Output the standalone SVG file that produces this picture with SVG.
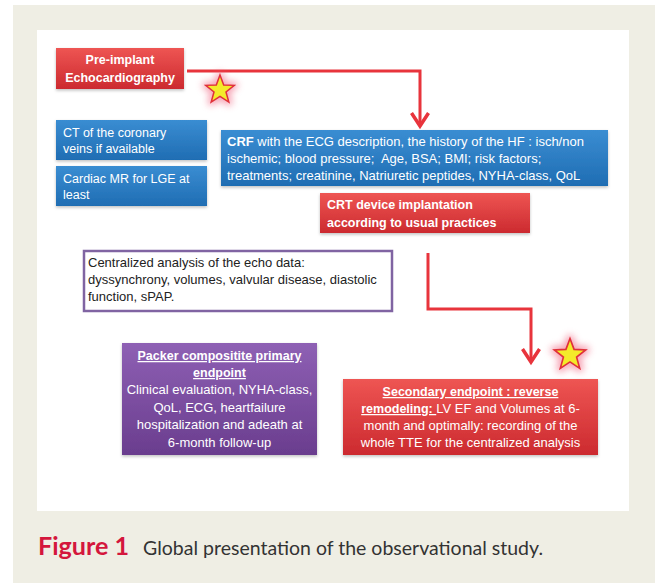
<svg xmlns="http://www.w3.org/2000/svg" width="655" height="583" viewBox="0 0 655 583">
<style>
.t{font-family:"Liberation Sans",Arial,sans-serif;font-size:12.5px;fill:#fff}
.m{font-size:13px}
.b{font-weight:bold}
.u{text-decoration:underline}
.dk{fill:#222}
.c{text-anchor:middle}
.conn{fill:none;stroke:#E8343C;stroke-width:3}
</style>
<defs>
<linearGradient id="gr" x1="0" y1="0" x2="0" y2="1"><stop offset="0" stop-color="#EE5553"/><stop offset="1" stop-color="#CC2A2F"/></linearGradient>
<linearGradient id="gb" x1="0" y1="0" x2="0" y2="1"><stop offset="0" stop-color="#3A8DD2"/><stop offset="1" stop-color="#1F6DB3"/></linearGradient>
<linearGradient id="gp" x1="0" y1="0" x2="0" y2="1"><stop offset="0" stop-color="#8E60B4"/><stop offset="1" stop-color="#6A3D8E"/></linearGradient>
<filter id="sh" x="-10%" y="-10%" width="120%" height="130%"><feDropShadow dx="0" dy="1.5" stdDeviation="1.5" flood-color="#000" flood-opacity="0.25"/></filter>
<filter id="glow" x="-80%" y="-80%" width="260%" height="260%"><feGaussianBlur stdDeviation="3.5"/></filter>
<path id="star" d="M0,-15 L3.70,-5.10 L14.27,-4.64 L5.99,1.95 L8.82,12.14 L0,6.3 L-8.82,12.14 L-5.99,1.95 L-14.27,-4.64 L-3.70,-5.10 Z"/>
<marker id="ah" markerUnits="userSpaceOnUse" markerWidth="24" markerHeight="24" viewBox="0 0 24 24" refX="15" refY="12" orient="auto">
<path d="M2,3.5 L15,12 L2,20.5" fill="none" stroke="#E8343C" stroke-width="3.5"/>
</marker>
</defs>
<rect x="0" y="0" width="655" height="583" fill="#fff"/>
<rect x="13" y="5" width="642" height="578" fill="#EFEEE4"/>
<rect x="37" y="30" width="592" height="481" fill="#fff"/>

<g id="connectors">
<path class="conn" d="M187,71 H420 V126" marker-end="url(#ah)"/>
<path class="conn" d="M428,253 V309 H531 V362" marker-end="url(#ah)"/>
</g>

<g id="star1" transform="translate(220,90)">
<use href="#star" fill="#F05A78" stroke="#F05A78" stroke-width="7" stroke-linejoin="round" opacity="0.55" filter="url(#glow)"/>
<use href="#star" fill="#F4EA2A" stroke="#E0303A" stroke-width="1.5"/>
</g>
<g id="star2" transform="translate(570,355) scale(1.1)">
<use href="#star" fill="#F05A78" stroke="#F05A78" stroke-width="7" stroke-linejoin="round" opacity="0.55" filter="url(#glow)"/>
<use href="#star" fill="#F4EA2A" stroke="#E0303A" stroke-width="1.5"/>
</g>

<g id="preimplant">
<rect x="56" y="48" width="128" height="41" fill="url(#gr)" filter="url(#sh)"/>
<text class="t b c" x="120" y="64">Pre-implant</text>
<text class="t b c" x="120" y="82">Echocardiography</text>
</g>

<g id="ct">
<rect x="56" y="120" width="151" height="40" fill="url(#gb)" filter="url(#sh)"/>
<text class="t" x="63" y="137">CT of the coronary</text>
<text class="t" x="63" y="153">veins if available</text>
</g>

<g id="mr">
<rect x="56" y="166" width="151" height="40" fill="url(#gb)" filter="url(#sh)"/>
<text class="t" x="63" y="183">Cardiac MR for LGE at</text>
<text class="t" x="63" y="199">least</text>
</g>

<g id="crf">
<rect x="221" y="130" width="387" height="56" fill="url(#gb)" filter="url(#sh)"/>
<text class="t m" x="227" y="146"><tspan class="b">CRF</tspan> with the ECG description, the history of the HF : isch/non</text>
<text class="t m" x="227" y="163">ischemic; blood pressure;&#160; Age, BSA; BMI; risk factors;</text>
<text class="t m" x="227" y="180">treatments; creatinine, Natriuretic peptides, NYHA-class, QoL</text>
</g>

<g id="crt">
<rect x="320" y="193" width="210" height="40" fill="url(#gr)" filter="url(#sh)"/>
<text class="t b" x="327" y="209">CRT device implantation</text>
<text class="t b" x="327" y="227">according to usual practices</text>
</g>

<g id="centralized">
<rect x="84" y="251" width="308" height="60" fill="#fff" stroke="#8064A2" stroke-width="2.5"/>
<text class="t m dk" x="88" y="267">Centralized analysis of the echo data:</text>
<text class="t m dk" x="88" y="284">dyssynchrony, volumes, valvular disease, diastolic</text>
<text class="t m dk" x="88" y="301">function, sPAP.</text>
</g>

<g id="packer">
<rect x="122" y="343" width="195" height="112" fill="url(#gp)" filter="url(#sh)"/>
<text class="t c" x="219.5" y="360"><tspan class="b u">Packer compositite primary</tspan></text>
<text class="t c" x="219.5" y="377"><tspan class="b u">endpoint</tspan></text>
<text class="t m c" x="219.5" y="394">Clinical evaluation, NYHA-class,</text>
<text class="t m c" x="219.5" y="412">QoL, ECG, heartfailure</text>
<text class="t m c" x="219.5" y="429">hospitalization and adeath at</text>
<text class="t m c" x="219.5" y="447">6-month follow-up</text>
</g>

<g id="secondary">
<rect x="343" y="379" width="255" height="76" fill="url(#gr)" filter="url(#sh)"/>
<text class="t c" x="470.5" y="396"><tspan class="b u">Secondary endpoint : reverse</tspan></text>
<text class="t m c" x="470.5" y="413"><tspan class="b u" font-size="12.5">remodeling: </tspan>LV EF and Volumes at 6-</text>
<text class="t m c" x="470.5" y="430">month and optimally: recording of the</text>
<text class="t m c" x="470.5" y="447">whole TTE for the centralized analysis</text>
</g>

<g id="caption">
<text x="38" y="555" font-family="Lato,'Open Sans',sans-serif" font-weight="bold" font-size="24" fill="#D4163C" textLength="91" lengthAdjust="spacingAndGlyphs">Figure 1</text>
<text x="143" y="555" font-family="Lato,'Open Sans',sans-serif" font-size="20" fill="#333" textLength="400" lengthAdjust="spacingAndGlyphs">Global presentation of the observational study.</text>
</g>
</svg>
